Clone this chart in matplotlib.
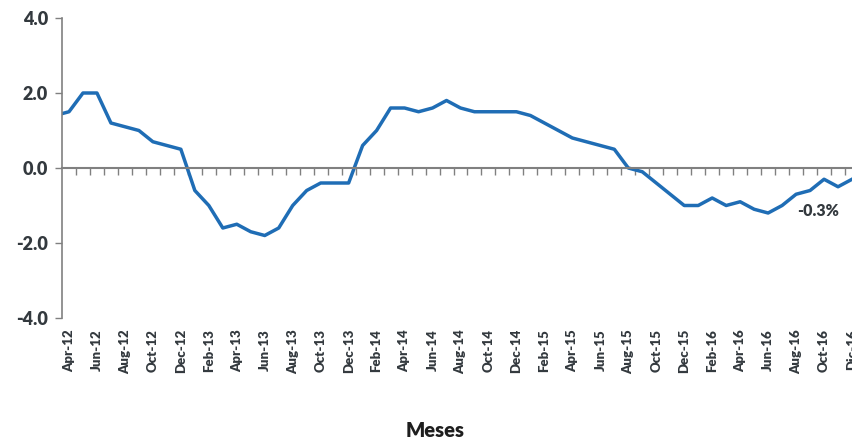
import numpy as np
import matplotlib
matplotlib.use("Agg")
from matplotlib import pyplot as plt

# monthly values, Mar-12 .. Dic-16 (Mar-12 only shows as the clipped start of the line)
meses = ["Mar-12", "Apr-12", "May-12", "Jun-12", "Jul-12", "Aug-12", "Sep-12", "Oct-12", "Nov-12", "Dec-12",
         "Jan-13", "Feb-13", "Mar-13", "Apr-13", "May-13", "Jun-13", "Jul-13", "Aug-13", "Sep-13", "Oct-13", "Nov-13", "Dec-13",
         "Jan-14", "Feb-14", "Mar-14", "Apr-14", "May-14", "Jun-14", "Jul-14", "Aug-14", "Sep-14", "Oct-14", "Nov-14", "Dec-14",
         "Jan-15", "Feb-15", "Mar-15", "Apr-15", "May-15", "Jun-15", "Jul-15", "Aug-15", "Sep-15", "Oct-15", "Nov-15", "Dec-15",
         "Jan-16", "Feb-16", "Mar-16", "Apr-16", "May-16", "Jun-16", "Jul-16", "Aug-16", "Sep-16", "Oct-16", "Nov-16", "Dic-16"]
valores = [1.4, 1.5, 2.0, 2.0, 1.2, 1.1, 1.0, 0.7, 0.6, 0.5,
           -0.6, -1.0, -1.6, -1.5, -1.7, -1.8, -1.6, -1.0, -0.6, -0.4, -0.4, -0.4,
           0.6, 1.0, 1.6, 1.6, 1.5, 1.6, 1.8, 1.6, 1.5, 1.5, 1.5, 1.5,
           1.4, 1.2, 1.0, 0.8, 0.7, 0.6, 0.5, 0.0, -0.1, -0.4, -0.7, -1.0,
           -1.0, -0.8, -1.0, -0.9, -1.1, -1.2, -1.0, -0.7, -0.6, -0.3, -0.5, -0.3]
etiqueta_final = "-0.3%"

plt.rcParams["font.family"] = ["Lato", "DejaVu Sans"]
texto = "#33393e"
gris = "#808080"

x = np.arange(len(valores)) - 1  # Apr-12 -> 0

fig = plt.figure(figsize=(8.52, 4.4), dpi=100)
ax = fig.add_axes([62/852, 122/440, 797/852, 300/440])

ax.plot(x, valores, color="#1f6db5", lw=2.5, solid_joinstyle="round")

ax.set_xlim(-0.5, 56.5)
ax.set_ylim(-4, 4)
ax.set_yticks([-4, -2, 0, 2, 4])
ax.set_yticklabels(["%.1f" % v for v in [-4, -2, 0, 2, 4]], fontsize=13, fontweight="heavy", color=texto)
ax.tick_params(axis="y", length=5, width=1, color=gris, pad=5)

for s in ["top", "right"]:
    ax.spines[s].set_visible(False)
ax.spines["left"].set_color(gris)
ax.spines["left"].set_linewidth(1.2)
ax.spines["bottom"].set_position(("data", 0))
ax.spines["bottom"].set_color(gris)
ax.spines["bottom"].set_linewidth(1.5)

# boundary ticks on the zero line
ax.set_xticks([])
ax.set_xticks(np.arange(0.5, 56.5, 1), minor=True)
ax.tick_params(axis="x", which="minor", length=5, width=1, color=gris, direction="out")

# month labels at the bottom of the plot area
sec = ax.secondary_xaxis(0.0)
sec.spines["bottom"].set_visible(False)
sec.set_xticks(x[1::2])
sec.set_xticklabels(meses[1::2], rotation=90, fontsize=9.5, fontweight="heavy", color=texto)
sec.tick_params(axis="x", length=0, pad=8)

ax.text(53.6, -1.15, etiqueta_final, fontsize=11.5, fontweight="heavy", color=texto, ha="center", va="center")

fig.text(435/852, 1 - 430/440, "Meses", fontsize=14.5, fontweight="heavy", color="#1e1e1e", ha="center", va="center")

fig.savefig("out.png", dpi=100)
